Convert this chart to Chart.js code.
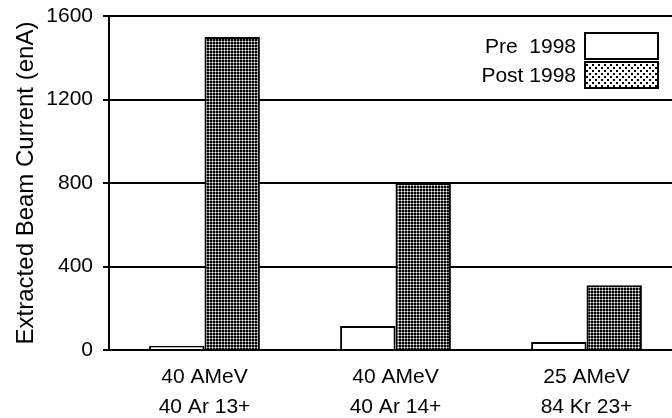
<!DOCTYPE html>
<html>
<head>
<meta charset="utf-8">
<script src="https://cdn.jsdelivr.net/npm/chart.js@4/dist/chart.umd.min.js"></script>
<style>
  html, body { margin: 0; padding: 0; background: #fff; overflow: hidden; }
  #wrap { width: 686px; height: 418px; }
</style>
</head>
<body>
<div id="wrap"><canvas id="beam" width="686" height="418"></canvas></div>
<script>
// beam energies / ions (two-line labels)
var categories = [
    ["40 AMeV", "40 Ar 13+"],
    ["40 AMeV", "40 Ar 14+"],
    ["25 AMeV", "84 Kr 23+"]
];
var seriesNames = ["Pre  1998", "Post 1998"];
var pre1998 = [20, 115, 38];
var post1998 = [1500, 800, 310];
var yTicks = [0, 400, 800, 1200, 1600];

var FONT = "Arial, 'Liberation Sans', sans-serif";

// dense dot fill used on the bars
function densePattern() {
    var c = document.createElement("canvas");
    c.width = 3; c.height = 3;
    var g = c.getContext("2d");
    g.fillStyle = "#fff";
    g.fillRect(0, 0, 3, 3);
    g.fillStyle = "#8a8a8a";
    g.fillRect(2, 0, 1, 2);
    g.fillRect(0, 2, 2, 1);
    g.fillStyle = "#000";
    g.fillRect(0, 0, 2, 2);
    return g.createPattern(c, "repeat");
}

// sparser dots for the legend swatch
function sparsePattern() {
    var c = document.createElement("canvas");
    c.width = 6; c.height = 6;
    var g = c.getContext("2d");
    g.fillStyle = "#fff";
    g.fillRect(0, 0, 6, 6);
    g.fillStyle = "#000";
    g.fillRect(1, 1, 2, 2);
    g.fillRect(4, 4, 2, 2);
    return g.createPattern(c, "repeat");
}

var boxLegend = {
    id: "boxLegend",
    afterDatasetsDraw: function(chart) {
        var ctx = chart.ctx;
        var fills = ["#fff", sparsePattern()];
        var tops = [33, 62];
        ctx.save();
        ctx.font = "21px " + FONT;
        ctx.textAlign = "right";
        ctx.textBaseline = "middle";
        chart.data.datasets.forEach(function(ds, i) {
            ctx.fillStyle = "#000";
            ctx.fillText(ds.label, 576, tops[i] + 14);
            ctx.fillStyle = fills[i];
            ctx.fillRect(585, tops[i], 73, 26);
            ctx.lineWidth = 2;
            ctx.strokeStyle = "#000";
            ctx.strokeRect(585, tops[i], 73, 26);
        });
        ctx.restore();
    }
};

var ctx = document.getElementById("beam");
new Chart(ctx, {
    type: 'bar',
    data: {
        labels: categories,
        datasets: [{
            label: seriesNames[0],
            data: pre1998,
            backgroundColor: "#fff",
            borderColor: "#000",
            borderWidth: 2
        }, {
            label: seriesNames[1],
            data: post1998,
            backgroundColor: densePattern(),
            borderColor: "#000",
            borderWidth: 2
        }]
    },
    options: {
        responsive: false,
        animation: false,
        devicePixelRatio: 1,
        layout: { padding: { top: 16, left: 0, right: 4, bottom: 0 } },
        datasets: {
            bar: { categoryPercentage: 0.58, barPercentage: 1.0 }
        },
        plugins: {
            legend: { display: false },
            tooltip: { enabled: false }
        },
        scales: {
            x: {
                grid: { display: false, drawTicks: false },
                border: { display: true, color: "#000", width: 2 },
                ticks: {
                    color: "#000",
                    maxRotation: 0,
                    padding: 12,
                    font: { family: FONT, size: 21, lineHeight: 1.45 }
                },
                afterFit: function(s) { s.height = 68; }
            },
            y: {
                min: 0,
                max: 1600,
                afterBuildTicks: function(s) {
                    s.ticks = yTicks.map(function(v) { return { value: v }; });
                },
                grid: { color: "#000", lineWidth: 2, tickLength: 6 },
                border: { display: true, color: "#000", width: 2 },
                ticks: {
                    color: "#000",
                    padding: 10,
                    font: { family: FONT, size: 21 },
                    callback: function(v) { return String(v); }
                },
                title: {
                    display: true,
                    text: "Extracted Beam Current (enA)",
                    color: "#000",
                    padding: { top: 12, bottom: 0 },
                    font: { family: FONT, size: 24 }
                },
                afterFit: function(s) {
                    s.width = 109;
                    s.paddingTop = 0;
                    s.paddingBottom = 0;
                }
            }
        }
    },
    plugins: [boxLegend]
});
</script>
</body>
</html>
